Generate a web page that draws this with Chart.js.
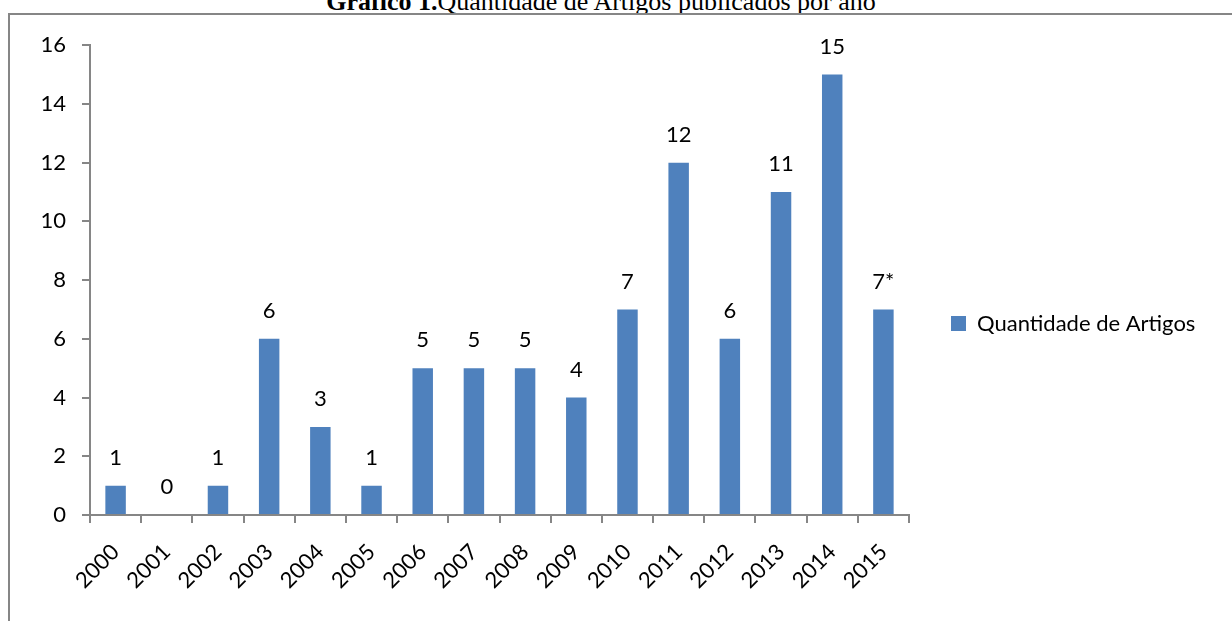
<!DOCTYPE html>
<html>
<head>
<meta charset="utf-8">
<script src="https://cdn.jsdelivr.net/npm/chart.js@4.4.1/dist/chart.umd.min.js"></script>
<style>
  html, body { margin: 0; padding: 0; background: #fff; overflow: hidden; }
  body { width: 1232px; height: 621px; position: relative; }
  .title {
    position: absolute; left: 0; width: 1202px; top: -13px;
    text-align: center; font-family: "Liberation Serif", serif; font-size: 26px; color: #000;
    white-space: nowrap;
  }
  .frame {
    position: absolute; left: 8px; top: 13px; width: 1240px; height: 620px;
    border-top: 2px solid #868686; border-left: 2px solid #868686;
  }
  .wrap { position: absolute; left: 10px; top: 16px; width: 1222px; height: 605px; }
</style>
</head>
<body>
<div class="title"><b>Gráfico 1.</b>Quantidade de Artigos publicados por ano</div>
<div class="frame"></div>
<div class="wrap"><canvas id="chart"></canvas></div>
<script>
'use strict';

var years = ['2000', '2001', '2002', '2003', '2004', '2005', '2006', '2007',
             '2008', '2009', '2010', '2011', '2012', '2013', '2014', '2015'];
var counts = [1, 0, 1, 6, 3, 1, 5, 5, 5, 4, 7, 12, 6, 11, 15, 7];
var countLabels = ['1', '0', '1', '6', '3', '1', '5', '5', '5', '4', '7', '12', '6', '11', '15', '7*'];
var seriesName = 'Quantidade de Artigos';

const barColor = '#4F81BD';
const axisColor = '#868686';
const font = { family: 'Lato', size: 22 };

//labels above bars
var valueLabels = {
  id: 'valueLabels',
  afterDatasetsDraw: function(chart) {
    var ctx = chart.ctx;
    var meta = chart.getDatasetMeta(0);
    ctx.save();
    ctx.font = font.size + 'px ' + font.family;
    ctx.fillStyle = '#000';
    ctx.textAlign = 'center';
    ctx.textBaseline = 'middle';
    meta.data.forEach(function(bar, i) {
      ctx.fillText(countLabels[i], bar.x, bar.y - 28);
    });
    ctx.restore();
  }
};

//legend sits further right than chart.js would put it
var legendFix = {
  id: 'legendFix',
  afterInit: function(chart) {
    var legend = chart.legend;
    var fit = legend.fit.bind(legend);
    legend.fit = function() { fit(); this.width = 323; };
  },
  afterLayout: function(chart) {
    chart.legend.top -= 9;
    chart.legend.bottom -= 9;
  }
};

new Chart(document.getElementById('chart'), {
  type: 'bar',
  data: {
    labels: years,
    datasets: [{
      label: seriesName,
      data: counts,
      backgroundColor: barColor,
      borderWidth: 0,
      categoryPercentage: 1,
      barPercentage: 0.4
    }]
  },
  options: {
    responsive: true,
    maintainAspectRatio: false,
    animation: false,
    layout: { padding: { top: 28, left: 0, right: 0, bottom: 0 } },
    plugins: {
      tooltip: { enabled: false },
      legend: {
        position: 'right',
        labels: {
          font: font,
          color: '#000',
          boxWidth: 15,
          boxHeight: 15,
          padding: 42
        }
      }
    },
    scales: {
      x: {
        afterFit: function(scale) { scale.height = 106; },
        grid: { drawOnChartArea: false, tickLength: 8, color: axisColor, lineWidth: 2, offset: true },
        border: { color: axisColor, width: 2 },
        ticks: { font: font, color: '#000', maxRotation: 45, minRotation: 45, padding: 16 }
      },
      y: {
        min: 0,
        max: 16,
        afterFit: function(scale) { scale.width = 80; },
        grid: { drawOnChartArea: false, tickLength: 8, color: axisColor, lineWidth: 2 },
        border: { color: axisColor, width: 2 },
        ticks: { font: font, color: '#000', stepSize: 2, padding: 16 }
      }
    }
  },
  plugins: [valueLabels, legendFix]
});
</script>
</body>
</html>
